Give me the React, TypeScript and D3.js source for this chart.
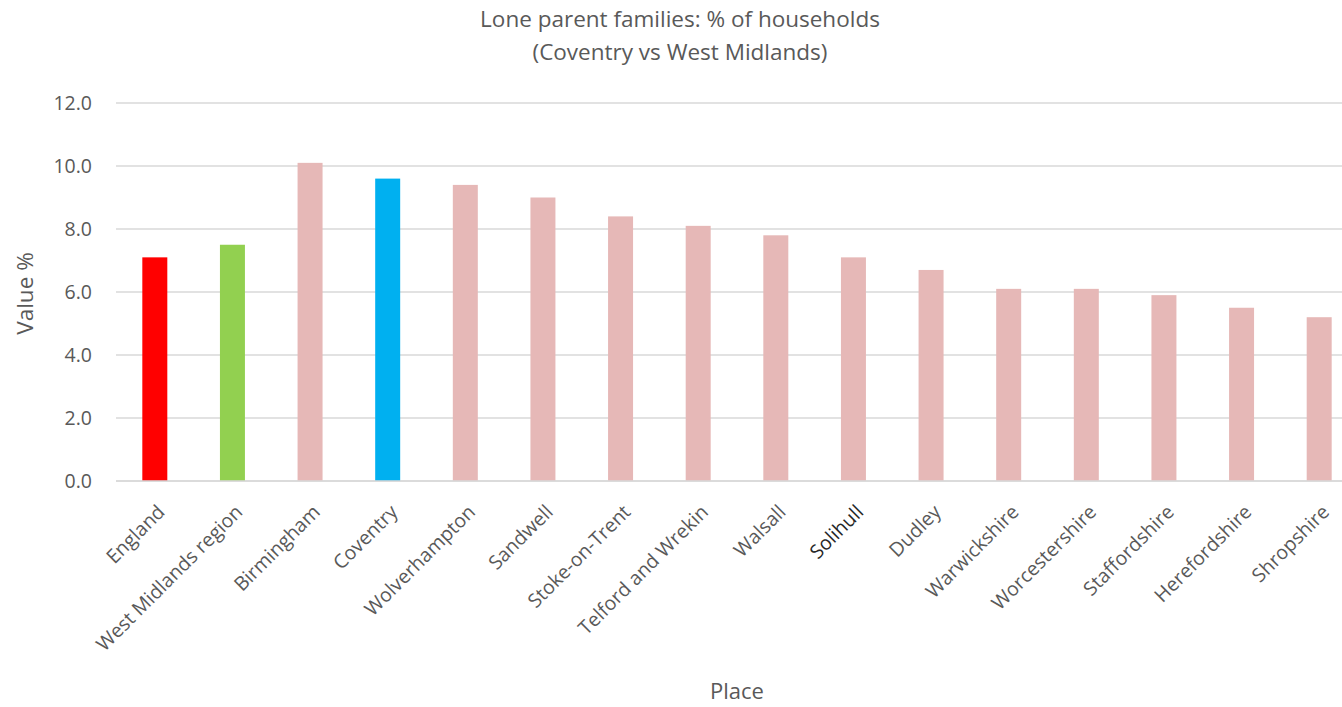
import React from "react";
import * as d3 from "d3";

const categories = [
  "England",
  "West Midlands region",
  "Birmingham",
  "Coventry",
  "Wolverhampton",
  "Sandwell",
  "Stoke-on-Trent",
  "Telford and Wrekin",
  "Walsall",
  "Solihull",
  "Dudley",
  "Warwickshire",
  "Worcestershire",
  "Staffordshire",
  "Herefordshire",
  "Shropshire",
];

const values = [7.1, 7.5, 10.1, 9.6, 9.4, 9.0, 8.4, 8.1, 7.8, 7.1, 6.7, 6.1, 6.1, 5.9, 5.5, 5.2];

const barColors = [
  "#ff0000",
  "#92d050",
  "#e6b8b7",
  "#00b0f0",
  "#e6b8b7",
  "#e6b8b7",
  "#e6b8b7",
  "#e6b8b7",
  "#e6b8b7",
  "#e6b8b7",
  "#e6b8b7",
  "#e6b8b7",
  "#e6b8b7",
  "#e6b8b7",
  "#e6b8b7",
  "#e6b8b7",
];

const yTicks = [0, 2, 4, 6, 8, 10, 12];

const titleLines = ["Lone parent families: % of households", "(Coventry vs West Midlands)"];
const yAxisTitle = "Value %";
const xAxisTitle = "Place";

const W = 1342;
const H = 707;
const FONT = "'Open Sans', 'DejaVu Sans', sans-serif";
const TEXT = "#595959";

export default function App() {
  const plotLeft = 116;
  const plotRight = 1358;
  const plotTop = 103;
  const plotBottom = 481;

  const x = d3
    .scaleBand<string>()
    .domain(categories)
    .range([plotLeft, plotRight])
    .paddingInner(0.678)
    .paddingOuter(0.339);

  const y = d3.scaleLinear().domain([0, 12]).range([plotBottom, plotTop]);

  return (
    <svg
      width={W}
      height={H}
      style={{ position: "absolute", left: 0, top: 0, background: "#ffffff" }}
      fontFamily={FONT}
    >
      <rect x={0} y={0} width={W} height={H} fill="#ffffff" />
      {/* title */}
      {titleLines.map((t, i) => (
        <text key={t} x={680} y={27 + i * 33} textAnchor="middle" fontSize={22.5} fill={TEXT}>
          {t}
        </text>
      ))}
      {/* gridlines */}
      {yTicks.map((t) => (
        <line
          key={"g" + t}
          x1={plotLeft}
          x2={W}
          y1={y(t)}
          y2={y(t)}
          stroke="#d9d9d9"
          strokeWidth={1.6}
        />
      ))}
      {/* y tick labels */}
      {yTicks.map((t) => (
        <text
          key={"t" + t}
          x={92}
          y={y(t)}
          dy="0.36em"
          textAnchor="end"
          fontSize={19.5}
          fill={TEXT}
        >
          {d3.format(".1f")(t)}
        </text>
      ))}
      {/* bars */}
      {categories.map((c, i) => (
        <rect
          key={"b" + c}
          x={x(c)}
          y={y(values[i])}
          width={x.bandwidth()}
          height={y(0) - y(values[i])}
          fill={barColors[i]}
        />
      ))}
      {/* zero line on top */}
      <line x1={plotLeft} x2={W} y1={y(0)} y2={y(0)} stroke="#d9d9d9" strokeWidth={1.6} />
      {/* category labels */}
      {categories.map((c) => {
        const cx = (x(c) as number) + x.bandwidth() / 2;
        return (
          <text
            key={"l" + c}
            transform={`translate(${cx + 1},${503}) rotate(-45)`}
            dy="0.74em"
            textAnchor="end"
            fontSize={19.5}
            fill={c === "Solihull" ? "#262626" : TEXT}
          >
            {c}
          </text>
        );
      })}
      {/* axis titles */}
      <text
        transform={`translate(33,293.5) rotate(-90)`}
        textAnchor="middle"
        fontSize={22.5}
        fill={TEXT}
      >
        {yAxisTitle}
      </text>
      <text x={737} y={699} textAnchor="middle" fontSize={22} fill={TEXT}>
        {xAxisTitle}
      </text>
    </svg>
  );
}
